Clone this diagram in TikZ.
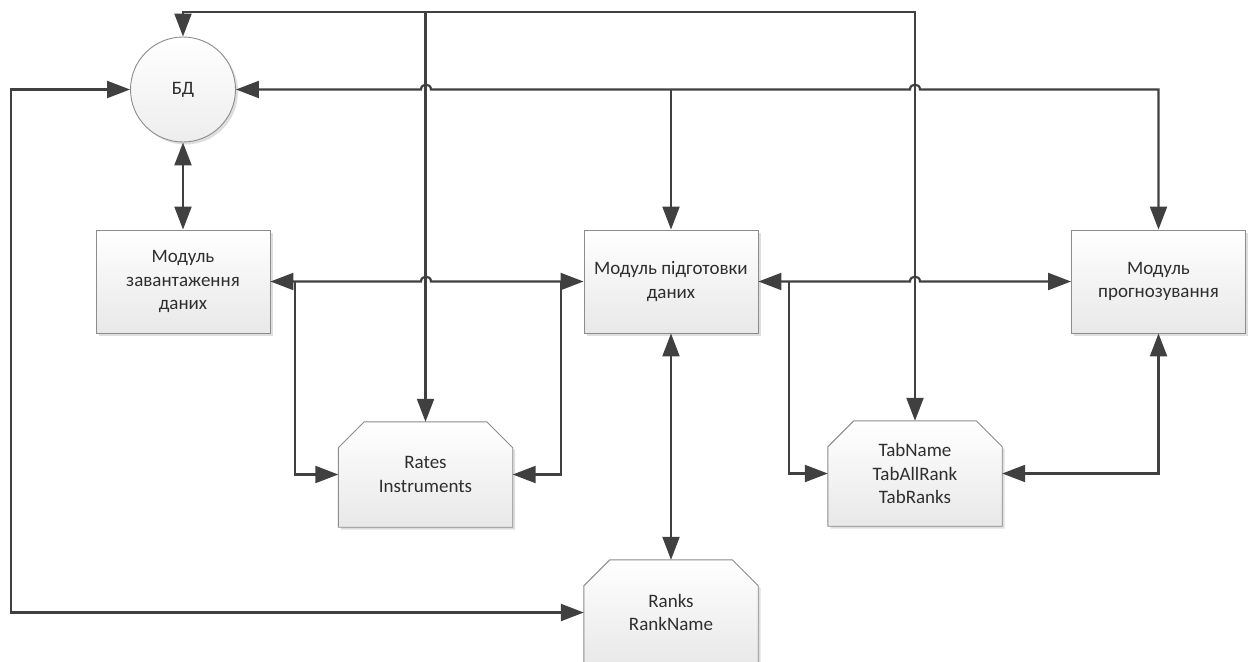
\documentclass[tikz,border=0pt]{standalone}
\usepackage{fontspec}
\setmainfont{Carlito}
\usetikzlibrary{arrows.meta,backgrounds,shadows,calc}

\definecolor{linegray}{HTML}{404040}
\definecolor{framegray}{HTML}{8C8C8C}
\definecolor{labelgray}{HTML}{2E2E2E}

% cut-corner store outline around a (frameless) node
\newcommand\chamferbox[1]{%
  \draw[storefill]
    (#1.south west) -- ($(#1.north west)+(0,26)$) -- ($(#1.north west)+(26,0)$)
    -- ($(#1.north east)+(-26,0)$) -- ($(#1.north east)+(0,26)$)
    -- (#1.south east) -- cycle;}

\begin{document}
\begin{tikzpicture}[x=1pt,y=-1pt,
  tip/.tip={Triangle[length=23pt,width=17pt]},
  link/.style={draw=linegray,line width=2.2pt},
  arr/.style={-tip},
  both/.style={tip-tip},
  softshadow/.style={drop shadow={shadow xshift=2.5pt,shadow yshift=-2.5pt,fill=black,opacity=0.13}},
  label/.style={text=labelgray,align=center,font=\fontsize{19}{23.5}\selectfont},
  modbox/.style={label,draw=framegray,line width=0.9pt,top color=white,bottom color=gray!18,
    minimum width=174pt,minimum height=103pt,softshadow},
  store/.style={label,minimum width=174pt,minimum height=105pt},
  storefill/.style={draw=framegray,line width=0.9pt,top color=white,bottom color=gray!18,softshadow},
  dbnode/.style={label,circle,draw=framegray,line width=0.9pt,top color=white,bottom color=gray!14,
    minimum size=105pt,inner sep=0pt,softshadow}]

\useasboundingbox (0,0) rectangle (1252,661);
\clip (0,0) rectangle (1252,661);

% blocks
\node[dbnode] (bd) at (183,89.5) {БД};
\node[modbox] (zav) at (183,281.5) {Модуль\\завантаження\\даних};
\node[modbox] (pid) at (671,281.5) {Модуль підготовки\\даних};
\node[modbox] (prog) at (1158.5,281.5) {Модуль\\прогнозування};
\node[store] (rates) at (425.5,474.5) {Rates\\Instruments};
\node[store] (tabs) at (915,473.5) {TabName\\TabAllRank\\TabRanks};
\node[store] (ranks) at (671,612.5) {Ranks\\RankName};

\begin{scope}[on background layer]
  \chamferbox{rates}
  \chamferbox{tabs}
  \chamferbox{ranks}
\end{scope}

% bus levels and branch points
\coordinate (top) at (0,12);
\coordinate (bus) at (0,89.5);
\coordinate (lx) at (11,0);
\coordinate (jl) at (295,281.5);
\coordinate (jr) at (561,281.5);
\coordinate (jt) at (789,281.5);

% top bus: БД <-> TabName, with a drop to Rates
\draw[link,both] (bd.north) |- (tabs.north |- top) -- (tabs.north);
\draw[link,arr] (rates.north |- top) -- (rates.north);

% second bus: БД <-> прогнозування, hopping over the two drops
\draw[link,both] (bd.east) -- (421,89.5) .. controls (421,83) and (431,83) .. (431,89.5)
  -- (910,89.5) .. controls (910,83) and (920,83) .. (920,89.5)
  -- (prog.north |- bus) -- (prog.north);
\draw[link,arr] (pid.north |- bus) -- (pid.north);

% БД <-> завантаження
\draw[link,both] (bd.south) -- (zav.north);

% завантаження <-> підготовка, with the Rates loop
\draw[link,both] (zav.east) -- (421,281.5) .. controls (421,275) and (431,275) .. (431,281.5)
  -- (pid.west);
\draw[link,arr] (jl) |- (rates.west);
\draw[link,arr] (jr) |- (rates.east);

% підготовка <-> прогнозування, with the Tab loop
\draw[link,both] (pid.east) -- (910,281.5) .. controls (910,275) and (920,275) .. (920,281.5)
  -- (prog.west);
\draw[link,arr] (jt) |- (tabs.west);
\draw[link,both] (tabs.east) -| (prog.south);

% підготовка <-> Ranks
\draw[link,both] (pid.south) -- (ranks.north);

% Ranks <-> БД around the left edge
\draw[link,both] (ranks.west) -| (lx |- bd.west) -- (bd.west);
\end{tikzpicture}
\end{document}
